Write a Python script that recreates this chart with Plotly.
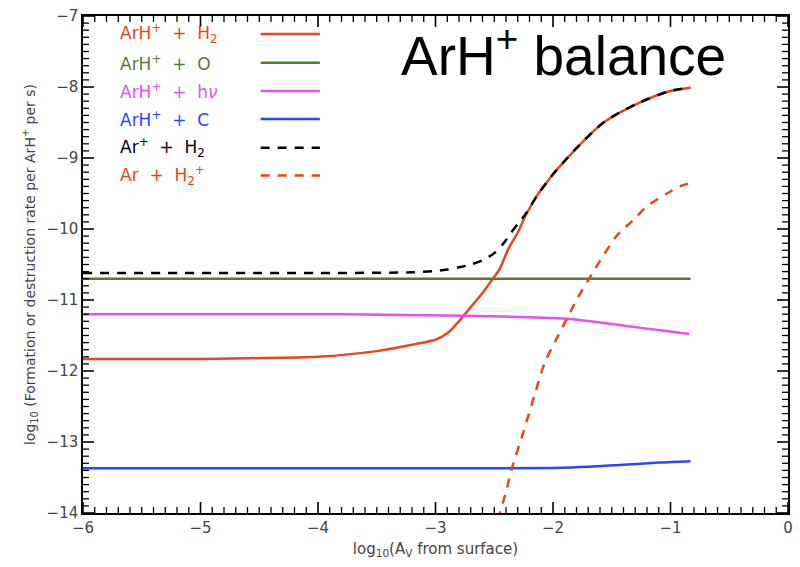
import plotly.graph_objects as go

# log10(Av from surface) sample points and log10 rates for each channel
x_h2 = [-6.0, -5.0, -4.6, -4.0, -3.5, -3.2, -3.0, -2.9, -2.8, -2.7, -2.6, -2.52, -2.45,
        -2.38, -2.3, -2.23, -2.14, -2.06, -2.0, -1.9, -1.77, -1.57, -1.29, -1.01, -0.83]
y_h2 = [-11.83, -11.83, -11.82, -11.80, -11.72, -11.63, -11.56, -11.47, -11.30, -11.10,
        -10.90, -10.72, -10.55, -10.28, -10.05, -9.80, -9.54, -9.36, -9.23, -9.04, -8.81,
        -8.50, -8.24, -8.06, -8.01]

x_o = [-6.0, -0.83]
y_o = [-10.70, -10.70]

x_hv = [-6.0, -4.0, -3.3, -2.5, -1.91, -1.63, -1.36, -1.07, -0.84]
y_hv = [-11.20, -11.20, -11.21, -11.23, -11.26, -11.31, -11.37, -11.43, -11.48]

x_c = [-6.0, -2.5, -2.0, -1.7, -1.4, -1.1, -0.83]
y_c = [-13.37, -13.37, -13.365, -13.35, -13.32, -13.29, -13.27]

x_arp = [-6.0, -4.0, -3.2, -3.0, -2.9, -2.8, -2.7, -2.6, -2.5, -2.42, -2.36, -2.3, -2.23,
         -2.14, -2.06, -2.0, -1.9, -1.77, -1.57, -1.29, -1.01, -0.83]
y_arp = [-10.62, -10.62, -10.61, -10.59, -10.57, -10.54, -10.50, -10.44, -10.34, -10.20,
         -10.06, -9.93, -9.78, -9.54, -9.36, -9.23, -9.04, -8.81, -8.50, -8.24, -8.06, -8.01]

x_h2p = [-2.47, -2.40, -2.35, -2.25, -2.15, -2.07, -1.98, -1.89, -1.80, -1.70, -1.60,
         -1.46, -1.32, -1.20, -1.03, -0.92, -0.83]
y_h2p = [-14.10, -13.70, -13.37, -12.85, -12.30, -11.88, -11.58, -11.29, -11.00, -10.72,
         -10.45, -10.10, -9.88, -9.68, -9.50, -9.40, -9.35]

X_RANGE = [-6, 0]
Y_RANGE = [-14, -7]
X_MAJOR = [-6, -5, -4, -3, -2, -1, 0]
Y_MAJOR = [-14, -13, -12, -11, -10, -9, -8, -7]
MINOR_STEP = 0.1

W, H = 800, 567
MARGIN = dict(l=83, r=7, t=15, b=54)

RED = "#e8461e"
GREEN = "#557a32"
MAGENTA = "#e650f5"
BLUE = "#2846ff"
BLACK = "#000000"
DASH = "9px,8px"
SP = "\u00a0\u00a0"

series = [
    (f"ArH<sup>+</sup>{SP}+{SP}H<sub>2</sub>", x_h2, y_h2, RED, "solid"),
    (f"ArH<sup>+</sup>{SP}+{SP}O", x_o, y_o, GREEN, "solid"),
    (f"ArH<sup>+</sup>{SP}+{SP}h<i>ν</i>", x_hv, y_hv, MAGENTA, "solid"),
    (f"ArH<sup>+</sup>{SP}+{SP}C", x_c, y_c, BLUE, "solid"),
    (f"Ar<sup>+</sup>{SP}+{SP}H<sub>2</sub>", x_arp, y_arp, BLACK, DASH),
    (f"Ar{SP}+{SP}H<sub>2</sub><sup>+</sup>", x_h2p, y_h2p, RED, DASH),
]

fig = go.Figure()
for name, xs, ys, col, dash in series:
    fig.add_trace(go.Scatter(x=xs, y=ys, mode="lines", name=name,
                             line=dict(color=col, width=2.5, dash=dash, shape="spline",
                                       smoothing=0.8),
                             showlegend=False))


def minor_values(lo, hi):
    n = int(round((hi - lo) / MINOR_STEP))
    return [round(lo + i * MINOR_STEP, 1) for i in range(1, n) if i % 10]


# inward tick marks on all four sides, built as line segments in data units
px_per_x = (W - MARGIN["l"] - MARGIN["r"]) / (X_RANGE[1] - X_RANGE[0])
px_per_y = (H - MARGIN["t"] - MARGIN["b"]) / (Y_RANGE[1] - Y_RANGE[0])


def tick_segments(xvals, yvals, length_px):
    dy = length_px / px_per_y
    dx = length_px / px_per_x
    xs, ys = [], []
    for v in xvals:
        xs += [v, v, None, v, v, None]
        ys += [Y_RANGE[0], Y_RANGE[0] + dy, None, Y_RANGE[1], Y_RANGE[1] - dy, None]
    for v in yvals:
        xs += [X_RANGE[0], X_RANGE[0] + dx, None, X_RANGE[1], X_RANGE[1] - dx, None]
        ys += [v, v, None, v, v, None]
    return xs, ys


for xv, yv, length, w in ((X_MAJOR, Y_MAJOR, 11, 1.6),
                          (minor_values(*X_RANGE), minor_values(*Y_RANGE), 6, 1.3)):
    tx, ty = tick_segments(xv, yv, length)
    fig.add_trace(go.Scatter(x=tx, y=ty, mode="lines", showlegend=False,
                             hoverinfo="skip", line=dict(color="black", width=w),
                             connectgaps=False))

# key drawn inside the frame: coloured label on the left, line sample on the right
row_y = [0.964, 0.906, 0.849, 0.793, 0.735, 0.679]
for (name, xs, ys, col, dash), yy in zip(series, row_y):
    fig.add_annotation(x=0.050, y=yy, xref="paper", yref="paper", text=name,
                       showarrow=False, xanchor="left", yanchor="middle",
                       font=dict(size=17, color=col, family="DejaVu Sans"))
    fig.add_shape(type="line", xref="paper", yref="paper", x0=0.252, x1=0.336,
                  y0=yy, y1=yy, line=dict(color=col, width=2.5, dash=dash))

fig.add_annotation(x=0.448, y=0.928, xref="paper", yref="paper",
                   text="ArH<sup>+</sup> balance", showarrow=False,
                   xanchor="left", yanchor="middle",
                   font=dict(size=55, color="black", family="Liberation Sans"))

TICKFONT = dict(size=15, color="#444444", family="DejaVu Sans")
AXIS = dict(showgrid=False, zeroline=False, showline=True, linecolor="black",
            linewidth=1.5, mirror=True, ticks="", tickfont=TICKFONT)

fig.update_layout(
    xaxis=dict(range=X_RANGE, tickvals=X_MAJOR,
               title=dict(text="log<sub>10</sub>(A<sub>V</sub> from surface)",
                          font=dict(size=15, color="#444444", family="DejaVu Sans"),
                          standoff=8),
               **AXIS),
    yaxis=dict(range=Y_RANGE, tickvals=Y_MAJOR,
               title=dict(text="log<sub>10</sub> (Formation or destruction rate per ArH<sup>+</sup> per s)",
                          font=dict(size=14, color="#444444", family="DejaVu Sans"),
                          standoff=8),
               **AXIS),
    width=W, height=H, margin=MARGIN,
    plot_bgcolor="white", paper_bgcolor="white",
    font=dict(family="DejaVu Sans"),
)

fig.write_html("out.html")
